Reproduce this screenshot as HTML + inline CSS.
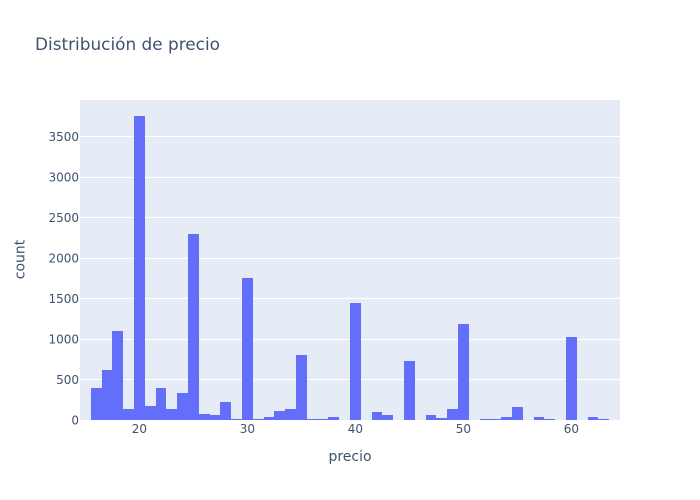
<!DOCTYPE html>
<html lang="es">
<head>
<meta charset="utf-8">
<title>Distribución de precio</title>
<style>
html,body{margin:0;padding:0;background:#fff;width:700px;height:500px;overflow:hidden}
svg{display:block;font-family:"DejaVu Sans",sans-serif}
text{fill:#2a3f5f;fill-opacity:.9}
</style>
</head>
<body>
<svg id="chart" width="700" height="500" viewBox="0 0 700 500" xmlns="http://www.w3.org/2000/svg">
  <rect x="0" y="0" width="700" height="500" fill="#ffffff"></rect>
  <rect x="80" y="100" width="540" height="320" fill="#e5ecf6"></rect>
  <g id="grid"></g>
  <g id="bars" shape-rendering="crispEdges"></g>
  <g id="xticks"></g>
  <g id="yticks"></g>
  <text x="35" y="50" font-size="17" textLength="185" lengthAdjust="spacingAndGlyphs">Distribución de precio</text>
  <text x="350" y="461" font-size="14" text-anchor="middle">precio</text>
  <text transform="translate(24.5,259.5) rotate(-90)" font-size="14" text-anchor="middle">count</text>
</svg>
<script>
const binCenters = [16,17,18,19,20,21,22,23,24,25,26,27,28,29,30,31,32,33,34,35,36,37,38,39,40,41,42,43,44,45,46,47,48,49,50,51,52,53,54,55,56,57,58,59,60,61,62,63];
const counts = [395,617,1099,136,3753,173,395,136,333,2295,74,62,222,12,1750,10,37,111,136,802,10,10,37,0,1444,0,99,62,0,728,0,62,25,136,1185,0,10,10,37,160,0,37,10,0,1024,0,37,10];
const xTickValues = [20,30,40,50,60];
const yTickValues = [0,500,1000,1500,2000,2500,3000,3500];
const xDomain = [14.5,64.5];
const yDomain = [0,3950];

const SVG_NS = 'http://www.w3.org/2000/svg';
const plotLeft = 80, plotRight = 620, plotTop = 100, plotBottom = 420;
function xScale(v){ return plotLeft + (v - xDomain[0]) / (xDomain[1] - xDomain[0]) * (plotRight - plotLeft); }
function yScale(v){ return plotBottom - (v - yDomain[0]) / (yDomain[1] - yDomain[0]) * (plotBottom - plotTop); }

const gridGroup = document.getElementById('grid');
const barGroup = document.getElementById('bars');
const xTickGroup = document.getElementById('xticks');
const yTickGroup = document.getElementById('yticks');

yTickValues.forEach(function(v){
  const y = Math.round(yScale(v)) + 0.5;
  if (v !== 0) {
    const line = document.createElementNS(SVG_NS, 'line');
    
    
    line.setAttribute('x1', plotLeft);
    line.setAttribute('x2', plotRight);
    line.setAttribute('y1', y);
    line.setAttribute('y2', y);
    line.setAttribute('stroke', '#ffffff');
    line.setAttribute('stroke-width', '1');
    gridGroup.appendChild(line);
  }
  const label = document.createElementNS(SVG_NS, 'text');
  
  
  label.setAttribute('x', 79);
  label.setAttribute('y', yScale(v) + 4.5);
  label.setAttribute('font-size', '12');
  label.setAttribute('text-anchor', 'end');
  label.textContent = String(v);
  yTickGroup.appendChild(label);
});

binCenters.forEach(function(c, i){
  const top = Math.round(yScale(counts[i]));
  const h = plotBottom - top;
  if (h <= 0) return;
  const left = Math.round(xScale(c - 0.5));
  const right = Math.round(xScale(c + 0.5));
  const bar = document.createElementNS(SVG_NS, 'rect');
  
  
  bar.setAttribute('x', left);
  bar.setAttribute('y', top);
  bar.setAttribute('width', right - left);
  bar.setAttribute('height', h);
  bar.setAttribute('fill', '#636efa');
  barGroup.appendChild(bar);
});

xTickValues.forEach(function(v){
  const label = document.createElementNS(SVG_NS, 'text');
  
  
  label.setAttribute('x', xScale(v));
  label.setAttribute('y', 433);
  label.setAttribute('font-size', '12');
  label.setAttribute('text-anchor', 'middle');
  label.textContent = String(v);
  xTickGroup.appendChild(label);
});
</script>
</body>
</html>
